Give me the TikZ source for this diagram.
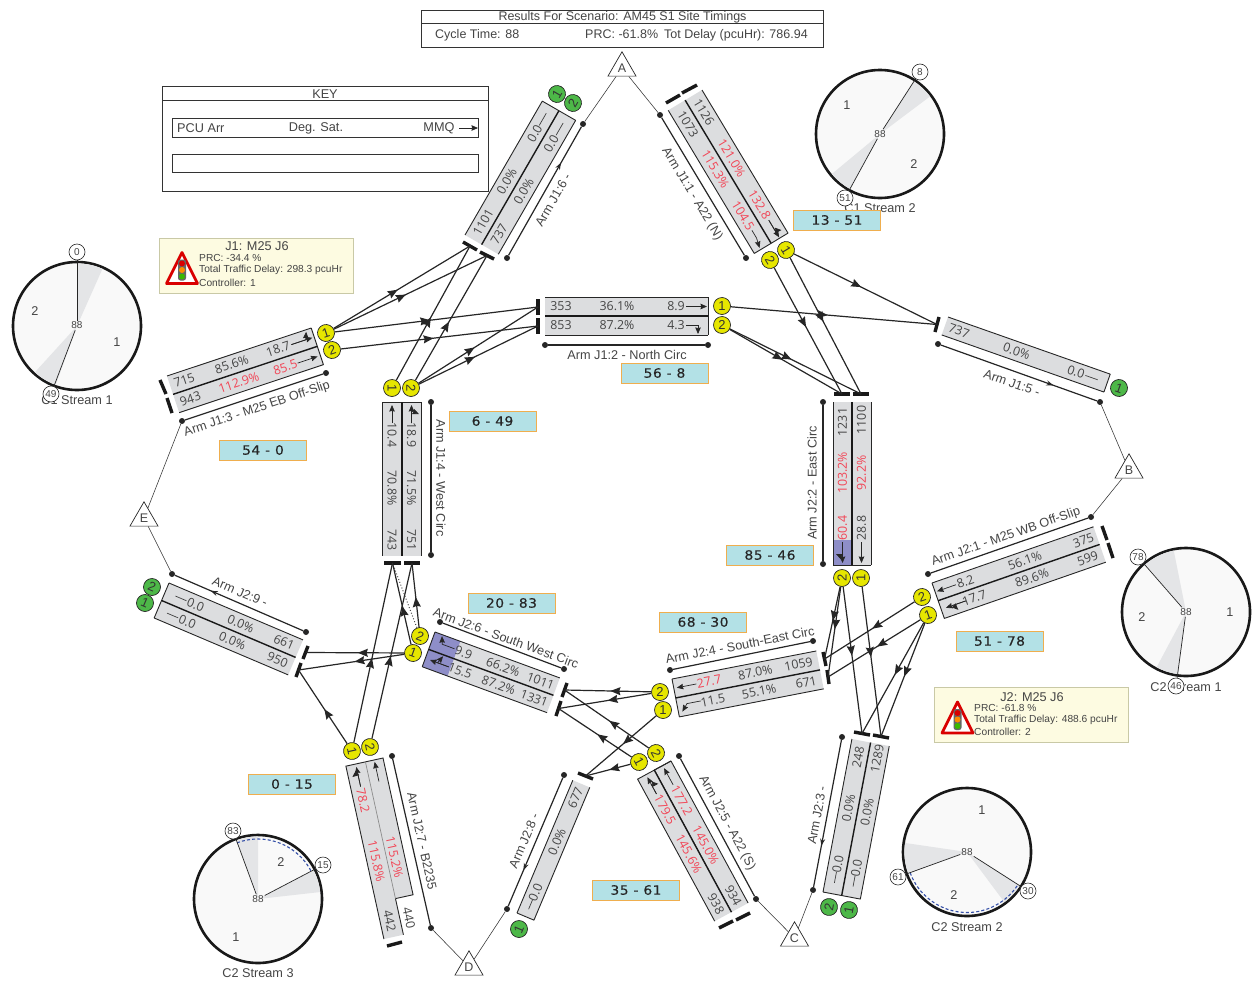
\documentclass[tikz,border=0pt]{standalone}
\usepackage{fontspec}
\setmainfont{Liberation Sans}
\newfontfamily\lanefont{Open Sans}
\newfontfamily\vfont[LetterSpace=4,FakeStretch=1.08,FakeBold=0.25]{DejaVu Sans}
\usetikzlibrary{calc,arrows.meta,decorations.markings,shapes.geometric}
\definecolor{inkc}{HTML}{454545}
\definecolor{redc}{HTML}{F24455}
\definecolor{lanec}{HTML}{DCDDDF}
\definecolor{purplec}{HTML}{8E8EC8}
\definecolor{yellc}{HTML}{E6E600}
\definecolor{greenc}{HTML}{4DB848}
\definecolor{vfill}{HTML}{B3E1E6}
\definecolor{vdraw}{HTML}{EFAE4E}
\definecolor{infoc}{HTML}{FDFBE1}
\definecolor{infod}{HTML}{C9C9A6}
\definecolor{wedgec}{HTML}{E4E5E7}
\definecolor{platec}{HTML}{F9F9F9}
\definecolor{dashc}{HTML}{3550A8}
\newcounter{tn}
\tikzset{
 lbl/.style={text=inkc,inner sep=0pt,font=\fontsize{12.7}{12}\selectfont},
 hdr/.style={lbl,font=\fontsize{12.5}{12}\selectfont},
 lanetxt/.style={text=inkc,inner sep=0pt,font=\lanefont\fontsize{12.4}{12}\selectfont},
 lanered/.style={lanetxt,text=redc},
 sigy/.style={circle,draw=black!85,fill=yellc,line width=.7pt,minimum size=17pt,inner sep=0pt,text=black!80,font=\fontsize{13}{12}\selectfont},
 sigg/.style={sigy,fill=greenc},
 dotn/.style={circle,fill=black!85,minimum size=6pt,inner sep=0pt},
 armline/.style={draw=black!85,line width=1.2pt},
 linkl/.style={draw=black!80,line width=.55pt},
 stopb/.style={draw=black!90,line width=3.4pt},
 conn/.style={draw=black!85,line width=1.2pt,postaction={decorate},decoration={markings,mark=at position .47 with {\arrow{Stealth[inset=1.2pt,length=10pt,width=8pt]}}}},
 armflow/.style={armline,postaction={decorate},decoration={markings,mark=at position .72 with {\arrow{Stealth[length=7pt,width=5pt]}}}},
 lar/.style={draw=black!85,line width=.7pt,-{Stealth[inset=.6pt,length=6.5pt,width=5.5pt]}},
 dashl/.style={draw=black!75,line width=.7pt},
 vbox/.style={rectangle,draw=vdraw,fill=vfill,line width=.9pt,minimum width=87pt,minimum height=20pt,inner sep=0pt,text=black!85,font=\vfont\fontsize{12.8}{12}\selectfont},
 tri/.style={regular polygon,regular polygon sides=3,draw=black!85,fill=white,line width=.7pt,minimum size=32.4pt,inner sep=0pt,text=inkc,font=\fontsize{12.5}{12}\selectfont},
 mark88/.style={text=inkc,inner sep=1pt,font=\fontsize{10}{10}\selectfont},
 markc/.style={circle,draw=black!85,fill=white,line width=.6pt,minimum size=16pt,inner sep=0pt,text=inkc,font=\fontsize{10}{10}\selectfont},
 radial/.style={draw=black!85,line width=.7pt},
 plate/.style={draw=black!90,fill=platec,line width=2.6pt},
 infoborder/.style={draw=infod,fill=infoc,line width=.9pt},
 frameb/.style={draw=black!80,line width=.8pt},
 dashb/.style={draw=dashc,line width=1.1pt,dash pattern=on 3pt off 2.2pt},
}
\newcommand\tx[3]{\stepcounter{tn}\node[lanetxt] (t\thetn) at (#1,#2) {#3};}
\newcommand\tr[3]{\stepcounter{tn}\node[lanered] (t\thetn) at (#1,#2) {#3};}
% L, W, edge x, extra fill code, mid lines code
\newcommand\armbox[5]{\fill[lanec] (0,0) rectangle (#1,#2); #4
 \draw[black!85,line width=.9pt] (0,0) -- (#1,0) (0,#2) -- (#1,#2) (#3,0) -- (#3,#2);
 #5}
\newcommand\midl[2]{\draw[black!90,line width=1.4pt] (0,#2) -- (#1,#2);}
\newcommand\sbar[5]{\draw[stopb] (#2,#3) -- (#4,#5); \coordinate (#1) at ($(#2,#3)!.5!(#4,#5)$);}
\newcommand\dbl[5]{\draw[lar] (#1,#3) -- (#2,#3); \draw[lar] (#1,#3) -- (#4,#3) -- (#4+3,#5);}
\newcommand\warn[2]{\begin{scope}[shift={(#1,#2)}]
 \draw[draw=red!85!black,fill=white,line width=2.8pt,line join=round] (0,-31) -- (15.5,0) -- (-15.5,0) -- cycle;
 \fill[black!60,rounded corners=2.5pt] (-4,-24) rectangle (4,-3);
 \fill[red!85!black] (0,-20) circle[radius=3pt];
 \fill[orange!90!yellow] (0,-13.5) circle[radius=3pt];
 \fill[green!60!black!70!lime] (0,-7) circle[radius=3pt];
 \end{scope}}
\begin{document}
\begin{tikzpicture}[x=1pt,y=-1pt]
\useasboundingbox (0,0) rectangle (1257,985);
\fill[white] (0,0) rectangle (1257,985);
% header
\draw[frameb] (421,10) rectangle (823,47) (421,23.5) -- (823,23.5);
\node[hdr] (hd) at (622.5,17.5) {Results For Scenario: AM45 S1 Site Timings};
\node[hdr,anchor=west] (hd2) at (435,35.5) {Cycle Time: 88};
\node[hdr,anchor=west] (hd3) at (585,35.5) {PRC: -61.8\%\hspace{6pt}Tot Delay (pcuHr): 786.94};
% key
\draw[frameb] (162.5,86) rectangle (488,191) (162.5,100) -- (488,100);
\node[lbl] (keyt) at (325,94) {KEY};
\draw[frameb] (172,118) rectangle (478,137);
\draw[frameb] (172,154) rectangle (478,172);
\node[lbl,anchor=west] (k1) at (177,128.5) {PCU Arr};
\node[lbl] (k2) at (316,128.5) {Deg. Sat.};
\node[lbl] (k3) at (439,128.5) {MMQ};
\coordinate (k4) at (459,128);
\coordinate (k5) at (478,128);
\draw[lar] (k4) -- (k5);
% info boxes
\draw[infoborder] (159.5,238) rectangle (353,293);
\warn{182}{283.5}
\node[lbl] (i1) at (257,246.5) {J1: M25 J6};
\begin{scope}[every node/.append style={lbl,anchor=west,font=\fontsize{10.2}{10}\selectfont}]
\node (i2) at (199,257.5) {PRC: -34.4 \%};
\node (i3) at (199,270) {Total Traffic Delay: 298.3 pcuHr};
\node (i4) at (199,282.5) {Controller: 1};
\end{scope}
\draw[infoborder] (934,687) rectangle (1128,742);
\warn{957.5}{733}
\node[lbl] (j1) at (1032,697) {J2: M25 J6};
\begin{scope}[every node/.append style={lbl,anchor=west,font=\fontsize{10.2}{10}\selectfont}]
\node (j2) at (974,707.5) {PRC: -61.8 \%};
\node (j3) at (974,719.5) {Total Traffic Delay: 488.6 pcuHr};
\node (j4) at (974,731.5) {Controller: 2};
\end{scope}
% signal plates
% C1 Stream 1
\node[lbl] (cap1) at (77,400) {C1 Stream 1};
\draw[plate] (77,326) circle[radius=64pt];
\fill[wedgec] (77,326) -- ++(90:62.6pt) arc[start angle=90,end angle=66,radius=62.6pt] -- cycle;
\fill[wedgec] (77,326) -- ++(250.2:62.6pt) arc[start angle=250.2,end angle=227.7,radius=62.6pt] -- cycle;
\node[mark88] (p1c) at (77,325.5) {88};
\node[markc] (p1a) at (77,252) {0};
\node[markc] (p1b) at (51,394) {49};
\draw[radial] (p1c) -- (p1a);
\draw[radial] (p1c) -- (p1b);
\node[lbl] (p1x) at (117,342) {1};
\node[lbl] (p1y) at (35,311) {2};
% C1 Stream 2
\node[lbl] (cap2) at (880,208.5) {C1 Stream 2};
\draw[plate] (880,134) circle[radius=64pt];
\fill[wedgec] (880,134) -- ++(57.6:62.6pt) arc[start angle=57.6,end angle=36.9,radius=62.6pt] -- cycle;
\fill[wedgec] (880,134) -- ++(241:62.6pt) arc[start angle=241,end angle=219.7,radius=62.6pt] -- cycle;
\node[mark88] (p2c) at (880,134) {88};
\node[markc] (p2a) at (920,72) {8};
\node[markc] (p2b) at (845,198) {51};
\draw[radial] (p2c) -- (p2a);
\draw[radial] (p2c) -- (p2b);
\node[lbl] (p2x) at (847,105) {1};
\node[lbl] (p2y) at (914,164) {2};
% C2 Stream 1
\node[lbl] (cap3) at (1186,687) {C2 Stream 1};
\draw[plate] (1186,612) circle[radius=64pt];
\fill[wedgec] (1186,612) -- ++(130.4:62.6pt) arc[start angle=130.4,end angle=101.3,radius=62.6pt] -- cycle;
\fill[wedgec] (1186,612) -- ++(262.8:62.6pt) arc[start angle=262.8,end angle=242,radius=62.6pt] -- cycle;
\node[mark88] (p3c) at (1186,612) {88};
\node[markc] (p3a) at (1138,557) {78};
\node[markc] (p3b) at (1176,686) {46};
\draw[radial] (p3c) -- (p3a);
\draw[radial] (p3c) -- (p3b);
\node[lbl] (p3x) at (1230,612) {1};
\node[lbl] (p3y) at (1142,617) {2};
% C2 Stream 2
\node[lbl] (cap4) at (967,927) {C2 Stream 2};
\draw[plate] (967,852) circle[radius=64pt];
\fill[wedgec] (967,852) -- ++(200:62.6pt) arc[start angle=200,end angle=171.7,radius=62.6pt] -- cycle;
\fill[wedgec] (967,852) -- ++(328:62.6pt) arc[start angle=328,end angle=306.7,radius=62.6pt] -- cycle;
\draw[dashb] (967,852) ++(200:60.5pt) arc[start angle=200,end angle=328,radius=60.5pt];
\node[mark88] (p4c) at (967,852) {88};
\node[markc] (p4a) at (898,877) {61};
\node[markc] (p4b) at (1028,891) {30};
\draw[radial] (p4c) -- (p4a);
\draw[radial] (p4c) -- (p4b);
\node[lbl] (p4x) at (982,810) {1};
\node[lbl] (p4y) at (954,895) {2};
% C2 Stream 3
\node[lbl] (cap5) at (258,973) {C2 Stream 3};
\draw[plate] (258,899) circle[radius=64pt];
\fill[wedgec] (258,899) -- ++(110.5:62.6pt) arc[start angle=110.5,end angle=90,radius=62.6pt] -- cycle;
\fill[wedgec] (258,899) -- ++(27.4:62.6pt) arc[start angle=27.4,end angle=6.4,radius=62.6pt] -- cycle;
\draw[dashb] (258,899) ++(110.5:60pt) arc[start angle=110.5,end angle=27.4,radius=60pt];
\node[mark88] (p5c) at (258,899) {88};
\node[markc] (p5a) at (233,831) {83};
\node[markc] (p5b) at (323,865) {15};
\draw[radial] (p5c) -- (p5a);
\draw[radial] (p5c) -- (p5b);
\node[lbl] (p5x) at (236,937) {1};
\node[lbl] (p5y) at (281,862) {2};
% triangles
\node[tri] (triA) at (622,68) {A};
\node[tri] (triB) at (1129,470) {B};
\node[tri] (triC) at (794.5,938) {C};
\node[tri] (triD) at (469,967) {D};
\node[tri] (triE) at (144,518) {E};
% ---- Arm J1:2
\begin{scope}[shift={(545,297)},transform shape]
\armbox{163}{38}{163}{}{\midl{163}{19}}
\tx{16}{9.5}{353}\tx{72}{9.5}{36.1\%}\tx{131}{9.5}{8.9}
\tx{16}{28.5}{853}\tx{72}{28.5}{87.2\%}\tx{131}{28.5}{4.3}
\draw[lar] (141,9.5) -- (162,9.5);
\draw[lar] (141,28) -- (153,28) -- (153,37);
\end{scope}
\node[dotn] (a2a) at (545,345) {}; \node[dotn] (a2b) at (708,345) {};
\draw[armline] (a2a) -- (a2b);
\node[lbl] (l2) at (627,355) {Arm J1:2 - North Circ};
\sbar{b2a}{538}{299}{538}{315}
\sbar{b2b}{538}{318}{538}{334}
\node[sigy] (s2a) at (722,306) {1};
\node[sigy] (s2b) at (722,325) {2};
% ---- Arm J1:3
\begin{scope}[shift={(167,376)},rotate=18.4,transform shape]
\armbox{152}{38.6}{152}{}{\midl{152}{19.3}}
\tx{15}{9.5}{715}\tx{65}{9.5}{85.6\%}\tx{114}{9.5}{18.7}
\tx{15}{29}{943}\tr{66}{29}{112.9\%}\tr{115}{29}{85.5}
\dbl{128}{150}{9.5}{143}{2}
\draw[lar] (128,29) -- (149,29);
\end{scope}
\node[dotn] (a3a) at (182,421) {}; \node[dotn] (a3b) at (326,373) {};
\draw[armline] (a3a) -- (a3b);
\node[lbl,rotate=18.4] (l3) at (257,409) {Arm J1:3 - M25 EB Off-Slip};
\sbar{b3a}{160}{380}{166}{394}
\sbar{b3b}{167}{398}{172}{413}
\node[sigy,rotate=18.4] (s3a) at (326,333) {1};
\node[sigy,rotate=18.4] (s3b) at (332,350) {2};
% ---- Arm J1:6
\begin{scope}[shift={(465,235)},rotate=60,transform shape]
\armbox{154.6}{38.5}{154.6}{}{\midl{154.6}{19.2}}
\tx{20}{9.5}{1101}\tx{67}{9.5}{0.0\%}\tx{123}{9.5}{0.0}
\tx{18}{29}{737}\tx{67}{29}{0.0\%}\tx{122}{29}{0.0}
\draw[dashl] (132,9.5) -- (146,9.5) (132,29) -- (146,29);
\end{scope}
\node[dotn] (a6a) at (507,258) {}; \node[dotn] (a6b) at (583,124) {};
\draw[armflow] (a6a) -- (a6b);
\node[lbl,rotate=60] (l6) at (553,200) {Arm J1:6 -};
\sbar{b6a}{463}{242}{477}{250}
\sbar{b6b}{480}{252}{494}{259}
\node[sigg,rotate=60] (s6a) at (557,94) {1};
\node[sigg,rotate=60] (s6b) at (573,103) {2};
% ---- Arm J1:1
\begin{scope}[shift={(702,90)},rotate=-59,transform shape]
\armbox{167}{39.4}{167}{}{\midl{167}{19.7}}
\tx{20}{9.8}{1126}\tr{74}{9.8}{121.0\%}\tr{128}{9.8}{132.8}
\tx{22}{29.5}{1073}\tr{75}{29.5}{115.3\%}\tr{129}{29.5}{104.5}
\dbl{146}{166}{9.8}{158}{4}
\draw[lar] (146,29.5) -- (155,29.5) -- (165,32);
\end{scope}
\node[dotn] (a1a) at (660,115) {}; \node[dotn] (a1b) at (746,258) {};
\draw[armline] (a1a) -- (a1b);
\node[lbl,rotate=-59] (l1) at (692,194) {Arm J1:1 - A22 (N)};
\sbar{b1a}{666}{103}{680}{95}
\sbar{b1b}{682}{93}{697}{85}
\node[sigy,rotate=-59] (s1a) at (786,250) {1};
\node[sigy,rotate=-59] (s1b) at (770,260) {2};
% ---- Arm J1:4
\begin{scope}[shift={(421,402)},rotate=-90,transform shape]
\armbox{154}{38.5}{0}{}{\midl{154}{19.2}}
\tx{33}{9.5}{18.9}\tx{86}{9.5}{71.5\%}\tx{138}{9.5}{751}
\tx{33}{29}{10.4}\tx{86}{29}{70.8\%}\tx{138}{29}{743}
\dbl{21}{3}{9.5}{9}{2}
\draw[lar] (21,29) -- (3,29);
\end{scope}
\node[dotn] (a4a) at (431,402) {}; \node[dotn] (a4b) at (431,555) {};
\draw[armline] (a4a) -- (a4b);
\node[lbl,rotate=-90] (l4) at (441,478) {Arm J1:4 - West Circ};
\sbar{b4a}{384}{563}{401}{563}
\sbar{b4b}{404}{563}{420}{563}
\node[sigy,rotate=-90] (s4a) at (392,388) {1};
\node[sigy,rotate=-90] (s4b) at (411,388) {2};
% ---- Arm J1:5
\begin{scope}[shift={(948,317)},rotate=-19.4,transform shape]
\armbox{172}{19}{172}{}{}
\tx{15}{9.5}{737}\tx{76}{9.5}{0.0\%}\tx{139}{9.5}{0.0}
\draw[dashl] (149,9.5) -- (162,9.5);
\end{scope}
\node[dotn] (a5a) at (938,344) {}; \node[dotn] (a5b) at (1100,402) {};
\draw[armflow] (a5a) -- (a5b);
\node[lbl,rotate=-19.4] (l5) at (1012,383) {Arm J1:5 -};
\sbar{b5a}{939}{317}{935}{332}
\node[sigg,rotate=-19.4] (s5a) at (1119,388) {1};
% ---- Arm J2:1
\begin{scope}[shift={(932,583)},rotate=19.2,transform shape]
\armbox{171}{37.5}{0}{}{\midl{171}{18.7}}
\tx{32}{9.5}{8.2}\tx{95}{9.5}{56.1\%}\tx{157}{9.5}{375}
\tx{35}{28}{17.7}\tx{96}{28}{89.6\%}\tx{155}{28}{599}
\draw[lar] (22,9.5) -- (2,9.5);
\dbl{26}{5}{28}{13}{34}
\end{scope}
\node[dotn] (a7a) at (928,574) {}; \node[dotn] (a7b) at (1091,517) {};
\draw[armline] (a7a) -- (a7b);
\node[lbl,rotate=19.2] (l7) at (1006,537) {Arm J2:1 - M25 WB Off-Slip};
\sbar{b7a}{1102}{526}{1107}{540}
\sbar{b7b}{1108}{543}{1113}{558}
\node[sigy,rotate=19.2] (s7a) at (928,615) {1};
\node[sigy,rotate=19.2] (s7b) at (922,597) {2};
% ---- Arm J2:2
\begin{scope}[shift={(833,565)},rotate=90,transform shape]
\armbox{163}{38}{0}{\fill[purplec] (0,0) rectangle (25,19);}{\midl{163}{19}}
\tr{37}{9.5}{60.4}\tr{92}{9.5}{103.2\%}\tx{143}{9.5}{1231}
\tx{37}{28.5}{28.8}\tr{92}{28.5}{92.2\%}\tx{145}{28.5}{1100}
\dbl{23}{2}{9.5}{8}{3}
\draw[lar] (23,28.5) -- (2,28.5);
\end{scope}
\node[dotn] (a8a) at (823,402) {}; \node[dotn] (a8b) at (823,564) {};
\draw[armline] (a8a) -- (a8b);
\node[lbl,rotate=90] (l8) at (812,483) {Arm J2:2 - East Circ};
\sbar{b8a}{834}{394}{850}{394}
\sbar{b8b}{853}{394}{869}{394}
\node[sigy,rotate=90] (s8a) at (861,578) {1};
\node[sigy,rotate=90] (s8b) at (842,578) {2};
% ---- Arm J2:3
\begin{scope}[shift={(823,892)},rotate=79.3,transform shape]
\armbox{155.7}{38}{0}{}{\midl{155.7}{19}}
\tx{30}{9.5}{0.0}\tx{87}{9.5}{0.0\%}\tx{139}{9.5}{248}
\tx{30}{28.5}{0.0}\tx{87}{28.5}{0.0\%}\tx{141}{28.5}{1289}
\draw[dashl] (11,9.5) -- (22,9.5) (11,28.5) -- (22,28.5);
\end{scope}
\node[dotn] (a9a) at (842,737) {}; \node[dotn] (a9b) at (813,890) {};
\draw[armflow] (a9a) -- (a9b);
\node[lbl,rotate=79.3] (l9) at (817,815) {Arm J2:3 -};
\sbar{b9a}{854}{732}{870}{735}
\sbar{b9b}{873}{735}{889}{738}
\node[sigg,rotate=79.3] (s9a) at (849,910) {1};
\node[sigg,rotate=79.3] (s9b) at (829,907) {2};
% ---- Arm J2:4
\begin{scope}[shift={(672,679)},rotate=11,transform shape]
\armbox{147}{38.6}{0}{}{\midl{147}{19.3}}
\tr{36}{9.5}{27.7}\tx{83}{9.5}{87.0\%}\tx{127}{9.5}{1059}
\tx{36}{29}{11.5}\tx{83}{29}{55.1\%}\tx{131}{29}{671}
\draw[lar] (23,9.5) -- (3,9.5);
\draw[lar] (24,27) -- (10,27) -- (4,34);
\end{scope}
\node[dotn] (a10a) at (670,670) {}; \node[dotn] (a10b) at (813,641) {};
\draw[armline] (a10a) -- (a10b);
\node[lbl,rotate=11] (l10) at (740,645) {Arm J2:4 - South-East Circ};
\sbar{b10a}{823}{652}{826}{666}
\sbar{b10b}{827}{670}{829}{684}
\node[sigy] (s10a) at (663,710) {1};
\node[sigy] (s10b) at (660,692) {2};
% ---- Arm J2:5
\begin{scope}[shift={(671,761)},rotate=-61.5,transform shape]
\armbox{161.6}{19}{0}{}{}
\fill[lanec] (0,19) rectangle (161.6,38);
\draw[black!85,line width=.9pt] (0,0) -- (0,38) -- (161.6,38);
\midl{161.6}{19}
\tr{40}{9.5}{177.2}\tr{90.5}{9.5}{145.0\%}\tx{148}{9.5}{934}
\tr{40}{28.5}{179.5}\tr{90}{28.5}{145.6\%}\tx{147}{28.5}{938}
\draw[lar] (22,9.5) -- (3,9.5);
\dbl{22}{3}{28.5}{11}{22}
\end{scope}
\node[dotn] (a11a) at (679,756) {}; \node[dotn] (a11b) at (756,899) {};
\draw[armline] (a11a) -- (a11b);
\node[lbl,rotate=-61.5] (l11) at (727,823) {Arm J2:5 - A22 (S)};
\sbar{b11a}{719}{928}{733}{921}
\sbar{b11b}{736}{920}{750}{913}
\node[sigy,rotate=-61.5] (s11a) at (639,762) {1};
\node[sigy,rotate=-61.5] (s11b) at (656,753) {2};
% ---- Arm J2:6
\begin{scope}[shift={(435,632)},rotate=-20.2,transform shape]
\armbox{133}{37}{0}{\fill[purplec] (0,0) rectangle (27,37);}{\midl{133}{18.5}}
\tx{34}{9.5}{9.9}\tx{76}{9.5}{66.2\%}\tx{116}{9.5}{1011}
\tx{37}{28}{15.5}\tx{78}{28}{87.2\%}\tx{116}{28}{1331}
\draw[lar] (24,9) -- (11,9) -- (8,1.5);
\dbl{25}{5}{28}{13}{20}
\end{scope}
\node[dotn] (a12a) at (440,622) {}; \node[dotn] (a12b) at (564,669) {};
\draw[armline] (a12a) -- (a12b);
\node[lbl,rotate=-20.2] (l12) at (506,638) {Arm J2:6 - South West Circ};
\sbar{b12a}{567}{683}{562}{697}
\sbar{b12b}{561}{701}{556}{716}
\node[sigy,rotate=-20.2] (s12a) at (413,653) {1};
\node[sigy,rotate=-20.2] (s12b) at (420,636) {2};
% ---- Arm J2:7
\begin{scope}[shift={(383,758)},rotate=-77.6,transform shape]
\fill[lanec] (0,0) -- (140,0) -- (140,18) -- (177,18) -- (177,38) -- (0,38) -- cycle;
\draw[black!85,line width=.9pt] (140,18) -- (140,0) -- (0,0) -- (0,38) -- (177,38);
\draw[black!45,line width=.7pt] (0,18) -- (140,18);
\draw[black!85,line width=.9pt] (140,18) -- (177,18);
\tr{99}{10}{115.2\%}\tx{162}{9}{440}
\tr{37}{28.5}{78.2}\tr{99}{28.5}{115.8\%}\tx{161}{28.5}{442}
\draw[lar] (22,9) -- (2,9);
\dbl{23}{3}{28}{9}{34}
\end{scope}
\node[dotn] (a13a) at (392,756) {}; \node[dotn] (a13b) at (431,928) {};
\draw[armline] (a13a) -- (a13b);
\node[lbl,rotate=-77.6] (l13) at (422,841) {Arm J2:7 - B2235};
\sbar{b13a}{387}{946}{402}{942}
\node[sigy,rotate=-77.6] (s13a) at (352,751) {1};
\node[sigy,rotate=-77.6] (s13b) at (370,747) {2};
% ---- Arm J2:8
\begin{scope}[shift={(517,913)},rotate=67.2,transform shape]
\armbox{144}{18.4}{0}{}{}
\tx{26}{9.2}{0.0}\tx{81}{9.2}{0.0\%}\tx{129}{9.2}{677}
\draw[dashl] (8,9.2) -- (18,9.2);
\end{scope}
\node[dotn] (a14a) at (564,775) {}; \node[dotn] (a14b) at (507,909) {};
\draw[armflow] (a14a) -- (a14b);
\node[lbl,rotate=67.2] (l14) at (524,841) {Arm J2:8 -};
\sbar{b14a}{578}{773}{593}{779}
\node[sigg,rotate=67.2] (s14a) at (519,929) {1};
% ---- Arm J2:9
\begin{scope}[shift={(169,583)},rotate=-23,transform shape]
\armbox{145.6}{38}{0}{}{\midl{145.6}{19}}
\tx{33}{9.5}{0.0}\tx{82}{9.5}{0.0\%}\tx{129}{9.5}{661}
\tx{32}{28.5}{0.0}\tx{81}{28.5}{0.0\%}\tx{130}{28.5}{950}
\draw[dashl] (11,9.5) -- (23,9.5) (10,28.5) -- (22,28.5);
\end{scope}
\node[dotn] (a15a) at (306,632) {}; \node[dotn] (a15b) at (172,574) {};
\draw[armflow] (a15a) -- (a15b);
\node[lbl,rotate=-23] (l15) at (240,592) {Arm J2:9 -};
\sbar{b15a}{308}{646}{303}{659}
\sbar{b15b}{301}{663}{296}{677}
\node[sigg,rotate=-23] (s15a) at (145,603) {1};
\node[sigg,rotate=-23] (s15b) at (152,587) {2};
% links to triangles
\draw[linkl] (a6b) -- (triA); \draw[linkl] (a1a) -- (triA);
\draw[linkl] (a5b) -- (triB); \draw[linkl] (a7b) -- (triB);
\draw[linkl] (a9b) -- (triC); \draw[linkl] (a11b) -- (triC);
\draw[linkl] (a14b) -- (triD); \draw[linkl] (a13b) -- (triD);
\draw[linkl] (a3a) -- (triE); \draw[linkl] (a15b) -- (triE);
% value boxes
\node[vbox] (v1) at (837,220) {13 - 51};
\node[vbox] (v2) at (263,450) {54 - 0};
\node[vbox] (v3) at (492.5,421) {6 - 49};
\node[vbox] (v4) at (664.5,373) {56 - 8};
\node[vbox] (v5) at (770,555) {85 - 46};
\node[vbox] (v6) at (511.5,603) {20 - 83};
\node[vbox] (v7) at (703,622) {68 - 30};
\node[vbox] (v8) at (999.5,641) {51 - 78};
\node[vbox] (v9) at (292,784) {0 - 15};
\node[vbox] (v10) at (636,890) {35 - 61};
% connectors
\draw[conn] (s3a) -- (b6a);
\draw[conn] (s3a) -- (b6b);
\draw[conn] (s3a) -- (b2a);
\draw[conn] (s3b) -- (b2b);
\draw[conn] (s4a) -- (b6a);
\draw[conn] (s4b) -- (b6b);
\draw[conn] (s4b) -- (b2a);
\draw[conn] (s4b) -- (b2b);
\draw[conn] (s2a) -- (b5a);
\draw[conn] (s2b) -- (b8a);
\draw[conn] (s2b) -- (b8b);
\draw[conn] (s1a) -- (b5a);
\draw[conn] (s1a) -- (b8b);
\draw[conn] (s1b) -- (b8a);
\draw[conn] (s8b) -- (b10a);
\draw[conn] (s8b) -- (b10b);
\draw[conn] (s8b) -- (b9a);
\draw[conn] (s8a) -- (b9b);
\draw[conn] (s7b) -- (b10a);
\draw[conn] (s7a) -- (b10b);
\draw[conn] (s7a) -- (b9a);
\draw[conn] (s7a) -- (b9b);
\draw[conn] (s10b) -- (b12a);
\draw[conn] (s10b) -- (b12b);
\draw[conn] (s10a) -- (b14a);
\draw[conn] (s11b) -- (b12a);
\draw[conn] (s11a) -- (b12b);
\draw[conn] (s11a) -- (b14a);
\draw[conn] (s13a) -- (b15b);
\draw[conn] (s13a) -- (b4a);
\draw[conn] (s13b) -- (b4b);
\draw[conn] (s12a) -- (b15a);
\draw[conn] (s12a) -- (b15b);
\draw[conn] (s12a) -- (b4a);
\draw[conn] (s12b) -- (b4b);
\draw[black!70,line width=1pt,dotted] (s12b) -- (b4a);
\end{tikzpicture}
\end{document}
